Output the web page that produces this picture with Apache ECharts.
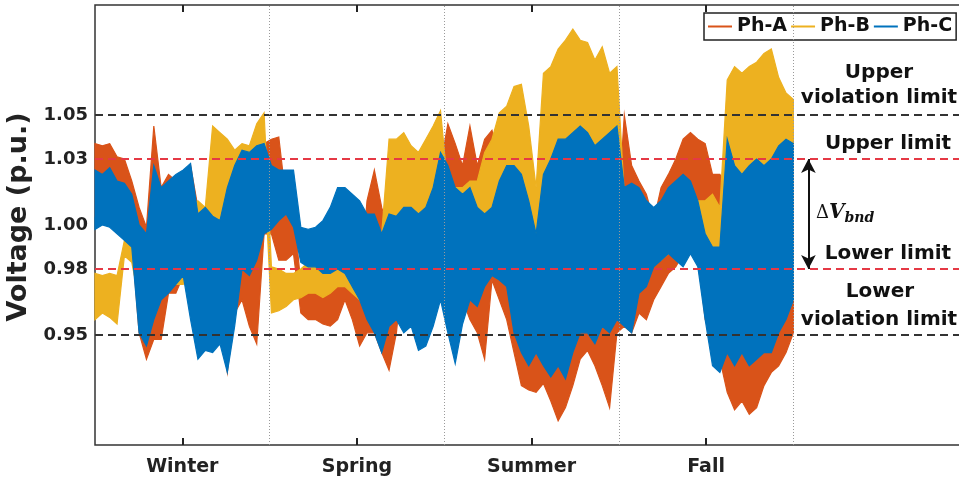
<!DOCTYPE html>
<html>
  <head>
    <meta charset="utf-8" />
    <script src="https://cdn.jsdelivr.net/npm/echarts@6/dist/echarts.min.js"></script>
  </head>
  <body>
    <style>
      html,
      body,
      #main {
        width: 100%;
        height: 100%;
        margin: 0;
        background: #fff;
      }
    </style>
    <div id="main"></div>
    <script>
      const seasons = ["Winter", "Spring", "Summer", "Fall"];
      const seasonCenters = [0.5, 1.5, 2.5, 3.5];
      const yTicks = [0.95, 0.98, 1.0, 1.03, 1.05];

      // envelope: upper / lower value per sample, 24 samples per season
      const phA_hi = [
        1.037, 1.036, 1.037, 1.031, 1.030, 1.020, 1.008, 0.999, 1.045, 1.017, 1.023, 1.020, 1.023, 1.027, 1.008, 1.005, 1.011, 1.017, 1.008, 1.011, 1.017, 1.023, 1.030, 1.037,
        1.039, 1.040, 1.011, 1.008, 0.973, 0.975, 0.973, 0.969, 0.973, 0.980, 0.987, 0.973, 0.969, 1.011, 1.025, 1.008, 0.996, 1.017, 1.017, 1.011, 1.008, 1.005, 1.014, 1.027,
        1.046, 1.037, 1.027, 1.045, 1.027, 1.039, 1.043, 1.030, 1.017, 1.011, 1.008, 1.004, 1.011, 1.008, 1.011, 1.008, 1.011, 1.008, 1.005, 1.008, 1.004, 1.005, 1.008, 0.996,
        1.050, 1.027, 1.020, 1.014, 1.002, 1.017, 1.023, 1.030, 1.039, 1.042, 1.039, 1.037, 1.023, 1.023, 1.017, 1.011, 1.008, 1.008, 1.005, 1.008, 1.008, 1.005, 1.004, 1.008,
      ];
      const phA_lo = [
        1.004, 1.005, 1.004, 0.999, 0.996, 0.993, 0.951, 0.939, 0.948, 0.948, 0.969, 0.969, 0.977, 0.966, 0.951, 0.943, 0.945, 0.958, 0.933, 0.960, 0.966, 0.954, 0.946, 0.996,
        0.996, 0.984, 0.984, 0.987, 0.960, 0.957, 0.957, 0.955, 0.954, 0.957, 0.966, 0.957, 0.945, 0.951, 0.951, 0.942, 0.934, 0.951, 0.984, 0.981, 0.984, 0.984, 0.987, 0.993,
        0.993, 0.978, 0.966, 0.957, 0.951, 0.939, 0.975, 0.966, 0.957, 0.942, 0.927, 0.925, 0.924, 0.928, 0.920, 0.911, 0.917, 0.927, 0.939, 0.943, 0.936, 0.927, 0.917, 0.951,
        0.954, 0.951, 0.960, 0.957, 0.966, 0.972, 0.978, 0.981, 0.987, 0.996, 0.987, 0.957, 0.951, 0.939, 0.924, 0.916, 0.920, 0.914, 0.917, 0.927, 0.933, 0.936, 0.942, 0.951,
      ];
      const phB_hi = [
        0.978, 0.977, 0.978, 0.977, 0.993, 0.990, 0.996, 0.989, 0.996, 0.993, 0.987, 0.996, 1.008, 1.008, 1.011, 1.008, 1.045, 1.042, 1.039, 1.034, 1.037, 1.036, 1.046, 1.051,
        0.981, 0.980, 0.978, 0.978, 0.980, 0.983, 0.983, 0.981, 0.984, 0.987, 0.990, 0.984, 0.975, 0.977, 0.981, 0.996, 1.039, 1.039, 1.042, 1.036, 1.033, 1.039, 1.045, 1.052,
        1.017, 1.017, 1.017, 1.020, 1.020, 1.033, 1.039, 1.051, 1.054, 1.063, 1.064, 1.045, 1.017, 1.069, 1.072, 1.080, 1.084, 1.089, 1.084, 1.083, 1.075, 1.081, 1.069, 1.072,
        1.014, 1.011, 1.008, 1.005, 1.002, 1.005, 1.008, 1.011, 1.014, 1.017, 1.011, 1.011, 1.014, 1.008, 1.066, 1.072, 1.069, 1.072, 1.074, 1.078, 1.080, 1.067, 1.060, 1.057,
      ];
      const phB_lo = [
        0.957, 0.960, 0.958, 0.955, 0.986, 0.983, 0.966, 0.958, 0.966, 0.977, 0.977, 0.973, 0.973, 0.981, 0.975, 0.981, 0.993, 0.987, 0.996, 1.005, 1.011, 1.011, 1.017, 1.027,
        0.960, 0.961, 0.963, 0.966, 0.967, 0.969, 0.969, 0.967, 0.969, 0.972, 0.972, 0.969, 0.966, 0.961, 0.966, 0.972, 0.981, 0.996, 1.002, 0.996, 0.999, 1.004, 1.011, 1.023,
        0.990, 0.987, 0.990, 0.987, 0.996, 0.999, 1.005, 1.005, 1.011, 1.008, 0.996, 0.993, 0.993, 0.996, 1.011, 1.017, 1.023, 1.017, 1.020, 1.017, 1.023, 1.023, 1.017, 1.023,
        0.987, 0.987, 0.984, 0.987, 0.984, 0.984, 0.987, 0.987, 0.990, 0.993, 0.990, 0.987, 0.984, 0.987, 1.017, 1.020, 1.017, 1.023, 1.017, 1.011, 1.017, 1.017, 1.011, 1.008,
      ];
      const phC_hi = [
        1.025, 1.023, 1.026, 1.020, 1.019, 1.014, 1.000, 0.996, 1.027, 1.017, 1.020, 1.023, 1.025, 1.028, 1.005, 1.008, 1.004, 1.002, 1.017, 1.027, 1.034, 1.033, 1.036, 1.037,
        1.027, 1.025, 1.025, 1.025, 0.999, 0.998, 0.999, 1.002, 1.008, 1.017, 1.017, 1.014, 1.011, 1.005, 1.005, 0.996, 1.005, 1.004, 1.008, 1.008, 1.005, 1.008, 1.017, 1.033,
        1.027, 1.017, 1.014, 1.017, 1.008, 1.005, 1.008, 1.020, 1.027, 1.027, 1.023, 1.011, 0.996, 1.023, 1.030, 1.039, 1.039, 1.042, 1.045, 1.042, 1.036, 1.039, 1.042, 1.045,
        1.017, 1.019, 1.017, 1.011, 1.008, 1.011, 1.017, 1.020, 1.023, 1.020, 1.011, 0.996, 0.990, 0.990, 1.039, 1.027, 1.023, 1.027, 1.030, 1.027, 1.030, 1.036, 1.039, 1.037,
      ];
      const phC_lo = [
        0.998, 1.000, 0.999, 0.996, 0.993, 0.990, 0.951, 0.945, 0.957, 0.966, 0.969, 0.973, 0.977, 0.957, 0.939, 0.943, 0.942, 0.946, 0.933, 0.954, 0.980, 0.977, 0.984, 0.996,
        0.998, 1.002, 1.005, 0.999, 0.983, 0.981, 0.981, 0.978, 0.978, 0.980, 0.978, 0.972, 0.966, 0.957, 0.951, 0.942, 0.954, 0.957, 0.951, 0.954, 0.943, 0.945, 0.954, 0.966,
        0.951, 0.937, 0.955, 0.966, 0.963, 0.972, 0.977, 0.975, 0.972, 0.951, 0.942, 0.936, 0.942, 0.936, 0.931, 0.936, 0.930, 0.942, 0.951, 0.951, 0.946, 0.954, 0.951, 0.957,
        0.954, 0.951, 0.969, 0.972, 0.981, 0.984, 0.987, 0.984, 0.981, 0.987, 0.981, 0.957, 0.936, 0.933, 0.942, 0.936, 0.942, 0.936, 0.939, 0.942, 0.942, 0.951, 0.957, 0.966,
      ];

      const font = "DejaVu Sans";
      const colors = ["#D95319", "#EDB120", "#0072BD"];

      var chart = echarts.init(document.getElementById("main"));

      // filled band between the two envelopes, spread over x = 0..4 (one unit per season)
      function bandSeries(name, hi, lo, color) {
        const n = hi.length;
        const xs = hi.map((_, i) => (i / (n - 1)) * 4);
        return {
          name: name,
          type: "custom",
          coordinateSystem: "cartesian2d",
          data: [[0, 1]],
          itemStyle: { color: color },
          renderItem: function (params, api) {
            const pts = [];
            for (let i = 0; i < n; i++) pts.push(api.coord([xs[i], hi[i]]));
            for (let i = n - 1; i >= 0; i--) pts.push(api.coord([xs[i], lo[i]]));
            return {
              type: "polygon",
              shape: { points: pts },
              style: { fill: color, stroke: color, lineWidth: 1.2, lineJoin: "miter" },
            };
          },
        };
      }

      const dash = (v, color) => ({
        yAxis: v,
        lineStyle: { color: color, type: [8, 5], width: 2 },
      });
      const vline = (v) => ({
        xAxis: v,
        lineStyle: { color: "#9a9a9a", type: [1, 2], width: 1 },
      });

      const xTicks = {
        inside: true,
        length: 7,
        customValues: seasonCenters,
        lineStyle: { color: "#222", width: 2 },
      };

      var option = {
        animation: false,
        backgroundColor: "#fff",
        color: colors,
        grid: {
          left: 95,
          top: 5,
          right: -2,
          bottom: 35,
          outerBoundsMode: "none",
          show: true,
          borderColor: "#333",
          borderWidth: 1.5,
        },
        legend: {
          data: ["Ph-A", "Ph-B", "Ph-C"],
          left: 704,
          top: 13,
          icon: "rect",
          itemWidth: 24,
          itemHeight: 2,
          itemGap: 4,
          padding: [4, 4, 4, 4],
          borderColor: "#222",
          borderWidth: 1.5,
          backgroundColor: "#fff",
          textStyle: {
            fontFamily: font,
            fontWeight: "bold",
            fontSize: 19,
            color: "#111",
          },
        },
        xAxis: [
          {
            type: "value",
            min: 0,
            max: 4.96,
            axisLine: { show: false },
            splitLine: { show: false },
            axisTick: xTicks,
            axisLabel: {
              customValues: seasonCenters,
              margin: 13,
              fontFamily: font,
              fontWeight: "bold",
              fontSize: 19,
              color: "#222",
              formatter: (v) => seasons[Math.floor(v)],
            },
          },
          {
            type: "value",
            position: "top",
            min: 0,
            max: 4.96,
            axisLine: { show: false },
            splitLine: { show: false },
            axisTick: xTicks,
            axisLabel: { show: false },
          },
        ],
        yAxis: {
          type: "value",
          min: 0.9,
          max: 1.1,
          name: "Voltage (p.u.)",
          nameLocation: "middle",
          nameGap: 56,
          nameRotate: 90,
          nameTextStyle: {
            fontFamily: font,
            fontWeight: "bold",
            fontSize: 27,
            color: "#222",
            padding: [0, 0, 0, 16],
          },
          axisLine: { show: false },
          splitLine: { show: false },
          axisTick: {
            inside: true,
            length: 7,
            customValues: yTicks,
            lineStyle: { color: "#222", width: 2 },
          },
          axisLabel: {
            customValues: yTicks,
            margin: 7,
            fontFamily: font,
            fontWeight: "bold",
            fontSize: 18,
            color: "#222",
            formatter: (v) => v.toFixed(2),
          },
        },
        series: [
          bandSeries("Ph-A", phA_hi, phA_lo, colors[0]),
          bandSeries("Ph-B", phB_hi, phB_lo, colors[1]),
          bandSeries("Ph-C", phC_hi, phC_lo, colors[2]),
          {
            name: "limits",
            type: "line",
            data: [],
            z: 5,
            silent: true,
            markLine: {
              symbol: "none",
              silent: true,
              label: { show: false },
              data: [
                dash(1.05, "#333"),
                dash(0.95, "#333"),
                dash(1.03, "#e53945"),
                dash(0.98, "#e53945"),
                vline(1),
                vline(2),
                vline(3),
                vline(4),
              ],
            },
          },
          {
            name: "band",
            type: "line",
            data: [],
            z: 6,
            silent: true,
            markLine: {
              symbol: ["arrow", "arrow"],
              symbolSize: [11, 14],
              silent: true,
              label: { show: false },
              lineStyle: { color: "#111", type: "solid", width: 2 },
              data: [[{ coord: [4.086, 1.03] }, { coord: [4.086, 0.98] }]],
            },
          },
        ],
        graphic: [
          { type: "text", x: 879, y: 73, style: { text: "Upper", font: "bold 20px " + font, fill: "#111", align: "center", verticalAlign: "middle" } },
          { type: "text", x: 879, y: 98, style: { text: "violation limit", font: "bold 20px " + font, fill: "#111", align: "center", verticalAlign: "middle" } },
          { type: "text", x: 888, y: 144, style: { text: "Upper limit", font: "bold 20px " + font, fill: "#111", align: "center", verticalAlign: "middle" } },
          { type: "text", x: 888, y: 254, style: { text: "Lower limit", font: "bold 20px " + font, fill: "#111", align: "center", verticalAlign: "middle" } },
          { type: "text", x: 880, y: 292, style: { text: "Lower", font: "bold 20px " + font, fill: "#111", align: "center", verticalAlign: "middle" } },
          { type: "text", x: 879, y: 320, style: { text: "violation limit", font: "bold 20px " + font, fill: "#111", align: "center", verticalAlign: "middle" } },
          {
            type: "text",
            x: 816,
            y: 213,
            style: {
              text: "{d|Δ}{v|V}{s|bnd}",
              verticalAlign: "middle",
              fill: "#111",
              rich: {
                d: { fontFamily: "DejaVu Serif", fontSize: 18, fill: "#111" },
                v: { fontFamily: "DejaVu Serif", fontStyle: "italic", fontWeight: "bold", fontSize: 20, fill: "#111" },
                s: { fontFamily: "DejaVu Serif", fontStyle: "italic", fontWeight: "bold", fontSize: 14, fill: "#111", padding: [10, 0, 0, 0] },
              },
            },
          },
        ],
      };

      chart.setOption(option);

      window.onresize = chart.resize;
    </script>
  </body>
</html>
